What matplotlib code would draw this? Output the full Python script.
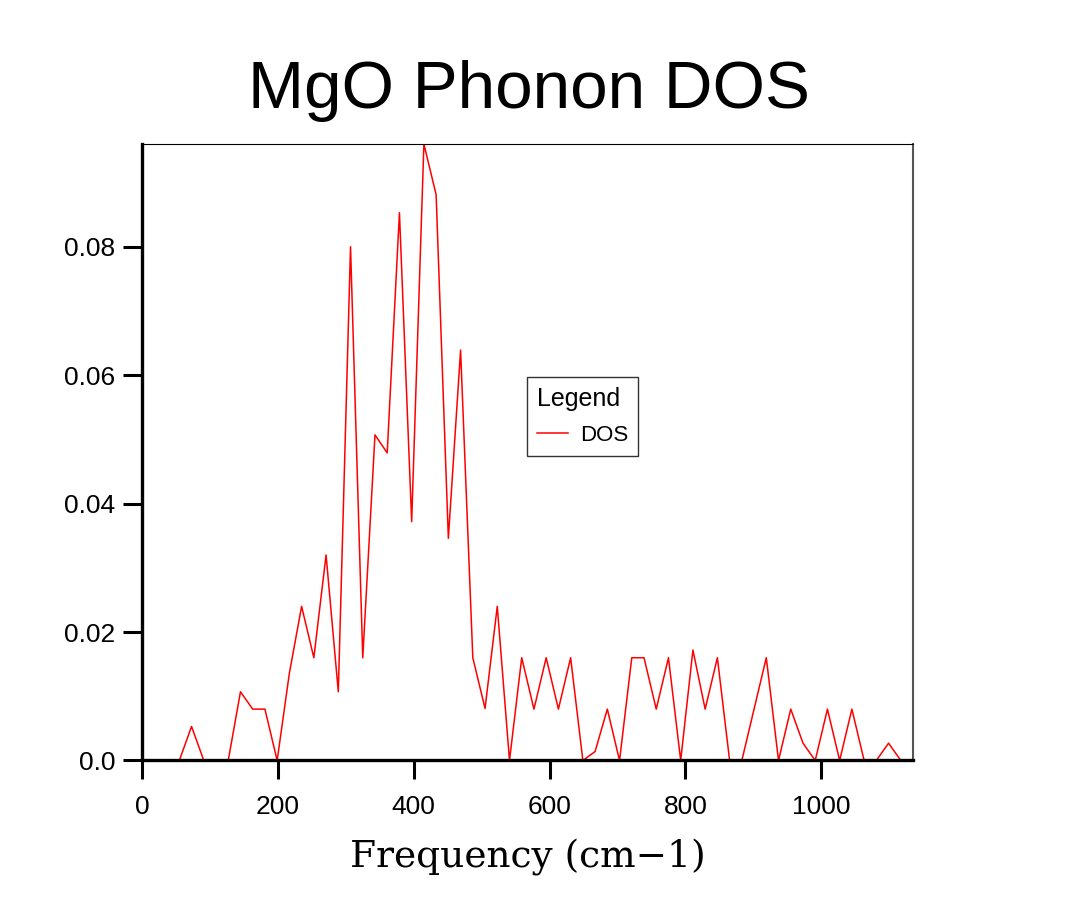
import matplotlib
matplotlib.use('Agg')
import matplotlib.pyplot as plt

# 频率 (cm-1) 和 DOS 值
freq = [55, 73, 91, 109, 127, 145, 163, 181, 199, 217,
        235, 253, 271, 289, 307, 325, 343, 361, 379, 397,
        415, 433, 451, 469, 487, 505, 523, 541, 559, 577,
        595, 613, 631, 649, 667, 685, 703, 721, 739, 757,
        775, 793, 811, 829, 847, 865, 883, 901, 919, 937,
        955, 973, 991, 1009, 1027, 1045, 1063, 1081, 1099, 1117]
dos = [0.0, 0.0053, 0.0, 0.0, 0.0, 0.0107, 0.0080, 0.0080, 0.0, 0.0136,
       0.0240, 0.0160, 0.0320, 0.0107, 0.0800, 0.0160, 0.0507, 0.0479, 0.0853, 0.0372,
       0.0960, 0.0881, 0.0346, 0.0639, 0.0160, 0.0081, 0.0240, 0.0, 0.0160, 0.0080,
       0.0160, 0.0080, 0.0160, 0.0, 0.0014, 0.0080, 0.0, 0.0160, 0.0160, 0.0080,
       0.0160, 0.0, 0.0172, 0.0080, 0.0160, 0.0, 0.0, 0.0080, 0.0160, 0.0,
       0.0080, 0.0027, 0.0, 0.0080, 0.0, 0.0080, 0.0, 0.0, 0.0027, 0.0]

xticks = [0, 200, 400, 600, 800, 1000]
yticks = [0.0, 0.02, 0.04, 0.06, 0.08]
ytick_labels = ['0.0', '0.02', '0.04', '0.06', '0.08']

plt.rcParams['font.family'] = ['Liberation Sans', 'DejaVu Sans']

fig = plt.figure(figsize=(10.69, 9.06), dpi=100)
ax = fig.add_axes([0.1328, 0.1606, 0.7213, 0.6805])

ax.plot(freq, dos, color='red', linewidth=1.1, label='DOS')

ax.set_xlim(0, 1135)
ax.set_ylim(0, 0.096)
ax.set_xticks(xticks)
ax.set_yticks(yticks)
ax.set_yticklabels(ytick_labels)

# 坐标轴样式：左边和下边粗，上边细，右边灰色
ax.spines['left'].set_linewidth(2.4)
ax.spines['bottom'].set_linewidth(2.4)
ax.spines['top'].set_linewidth(0.8)
ax.spines['right'].set_linewidth(1.5)
ax.spines['right'].set_color('#555555')
ax.tick_params(axis='both', direction='out', length=14, width=2.2,
               labelsize=19, top=False, right=False)
ax.tick_params(axis='x', pad=11)
ax.tick_params(axis='y', pad=5)

ax.set_xlabel('Frequency (cm\u22121)', family='DejaVu Serif', fontsize=27, labelpad=14)
fig.text(0.4948, 0.881, 'MgO Phonon DOS', fontsize=48.5, ha='center', va='baseline')

leg = ax.legend(loc='upper left', bbox_to_anchor=(0.499, 0.6226), borderaxespad=0,
                title='Legend', fontsize=16, title_fontsize=18, fancybox=False,
                handlelength=1.4, handletextpad=0.55, borderpad=0.45,
                labelspacing=0.65)
leg.get_frame().set_edgecolor('black')
leg.get_frame().set_linewidth(1.0)
leg._legend_box.align = 'left'

fig.savefig('out.png', dpi=100, facecolor='white')
